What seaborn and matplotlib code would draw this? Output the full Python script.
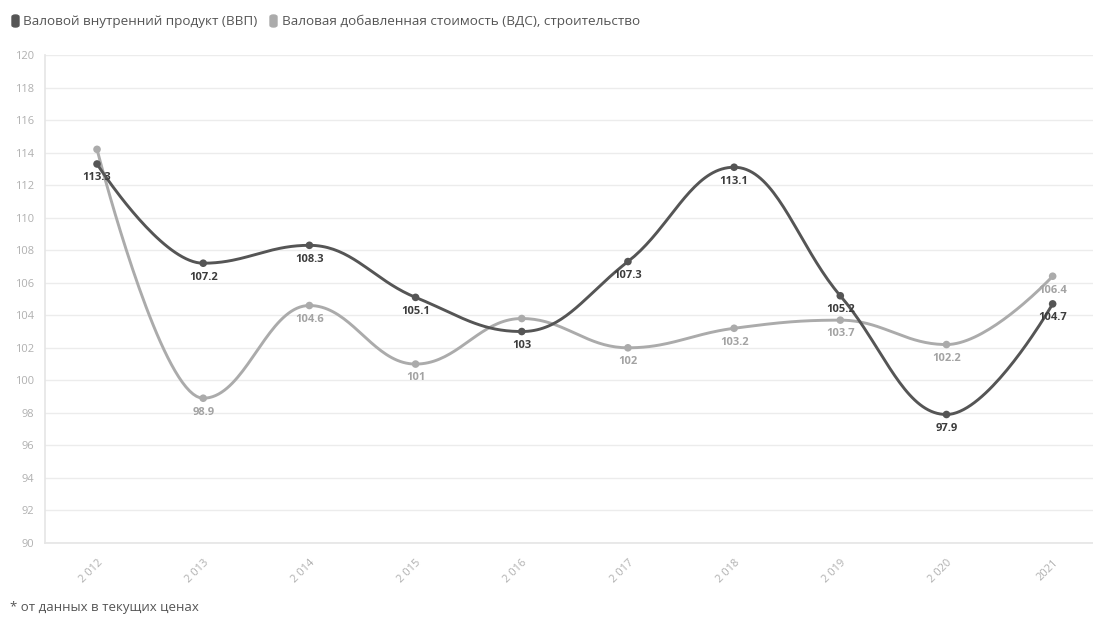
import numpy as np
import pandas as pd
import seaborn as sns
import matplotlib.pyplot as plt
from matplotlib.patches import FancyBboxPatch

years = ["2 012", "2 013", "2 014", "2 015", "2 016", "2 017", "2 018", "2 019", "2 020", "2021"]
gdp = [113.3, 107.2, 108.3, 105.1, 103.0, 107.3, 113.1, 105.2, 97.9, 104.7]
gva = [114.2, 98.9, 104.6, 101.0, 103.8, 102.0, 103.2, 103.7, 102.2, 106.4]
gva_labels = [None, "98.9", "104.6", "101", None, "102", "103.2", "103.7", "102.2", "106.4"]
gdp_labels = ["113.3", "107.2", "108.3", "105.1", "103", "107.3", "113.1", "105.2", "97.9", "104.7"]

name_gdp = "Валовой внутренний продукт (ВВП)"
name_gva = "Валовая добавленная стоимость (ВДС), строительство"
footnote = "* от данных в текущих ценах"

DARK = "#555555"
LIGHT = "#ababab"


def spline(xs, ys, n=40):
    # highcharts-like spline: bezier segments with smoothing 1.5
    xs = np.asarray(xs, float)
    ys = np.asarray(ys, float)
    k = len(xs)
    lc = np.column_stack([xs, ys]).copy()
    rc = lc.copy()
    s, d = 1.5, 2.5
    for i in range(1, k - 1):
        px, py = xs[i], ys[i]
        lx, ly = (s * px + xs[i - 1]) / d, (s * py + ys[i - 1]) / d
        rx, ry = (s * px + xs[i + 1]) / d, (s * py + ys[i + 1]) / d
        corr = (ry - ly) * (rx - px) / (rx - lx) + py - ry
        ly += corr
        ry += corr
        if ly > ys[i - 1] and ly > py:
            ly = max(ys[i - 1], py); ry = 2 * py - ly
        elif ly < ys[i - 1] and ly < py:
            ly = min(ys[i - 1], py); ry = 2 * py - ly
        if ry > ys[i + 1] and ry > py:
            ry = max(ys[i + 1], py); ly = 2 * py - ry
        elif ry < ys[i + 1] and ry < py:
            ry = min(ys[i + 1], py); ly = 2 * py - ry
        lc[i] = (lx, ly)
        rc[i] = (rx, ry)
    ox, oy = [], []
    t = np.linspace(0, 1, n)
    for i in range(k - 1):
        p0 = np.array([xs[i], ys[i]])
        p1 = rc[i]
        p2 = lc[i + 1]
        p3 = np.array([xs[i + 1], ys[i + 1]])
        pts = ((1 - t) ** 3)[:, None] * p0 + (3 * (1 - t) ** 2 * t)[:, None] * p1 \
            + (3 * (1 - t) * t ** 2)[:, None] * p2 + (t ** 3)[:, None] * p3
        ox.extend(pts[:, 0])
        oy.extend(pts[:, 1])
    return ox, oy


sns.set_theme(style="white")
plt.rcParams["font.family"] = ["Open Sans", "DejaVu Sans"]

fig = plt.figure(figsize=(10.93, 6.18), dpi=100)
ax = fig.add_axes([45 / 1093, 1 - 543 / 618, 1048 / 1093, 488 / 618])

pos = np.arange(len(years))
for vals, color in [(gva, LIGHT), (gdp, DARK)]:
    sx, sy = spline(pos, vals)
    sns.lineplot(x=sx, y=sy, sort=False, color=color, linewidth=2.1, ax=ax)
    sns.scatterplot(x=pos, y=vals, color=color, s=30, edgecolor="none", ax=ax, zorder=5)

for i in range(len(years)):
    if gva_labels[i]:
        ax.annotate(gva_labels[i], (pos[i], gva[i]), xytext=(0, -6), textcoords="offset points",
                    ha="center", va="top", fontsize=8, color="#a3a3a3", fontweight="bold")
    ax.annotate(gdp_labels[i], (pos[i], gdp[i]), xytext=(0, -6), textcoords="offset points",
                ha="center", va="top", fontsize=8, color="#3c3c3c", fontweight="bold")

ax.set_xlim(-0.49, 9.38)
ax.set_ylim(90, 120)
ax.set_yticks(np.arange(90, 121, 2))
ax.set_xticks(pos)
ax.set_xticklabels(years, rotation=45, ha="right", rotation_mode="anchor")
ax.tick_params(axis="both", labelsize=8, colors="#b0b0b0", length=4, width=0.8)
ax.tick_params(axis="x", pad=6)
ax.grid(axis="y", color="#ececec", linewidth=1)
ax.set_axisbelow(True)
for sp in ["top", "right"]:
    ax.spines[sp].set_visible(False)
ax.spines["left"].set_color("#e6e6e6")
ax.spines["bottom"].set_color("#e6e6e6")
ax.set_xlabel("")
ax.set_ylabel("")

# legend
for x0, color in [(12, DARK), (270, LIGHT)]:
    fig.patches.append(FancyBboxPatch((x0 / 1093, 1 - 27 / 618), 7 / 1093, 12 / 618,
                                      boxstyle="round,pad=0,rounding_size=0.003",
                                      transform=fig.transFigure, color=color, figure=fig))
fig.text(23 / 1093, 1 - 21 / 618, name_gdp, fontsize=9.7, color="#555555", va="center")
fig.text(282 / 1093, 1 - 21 / 618, name_gva, fontsize=9.7, color="#555555", va="center")

fig.text(10 / 1093, 1 - 608 / 618, footnote, fontsize=9.5, color="#555555", va="center")

fig.savefig("out.png", dpi=100)
